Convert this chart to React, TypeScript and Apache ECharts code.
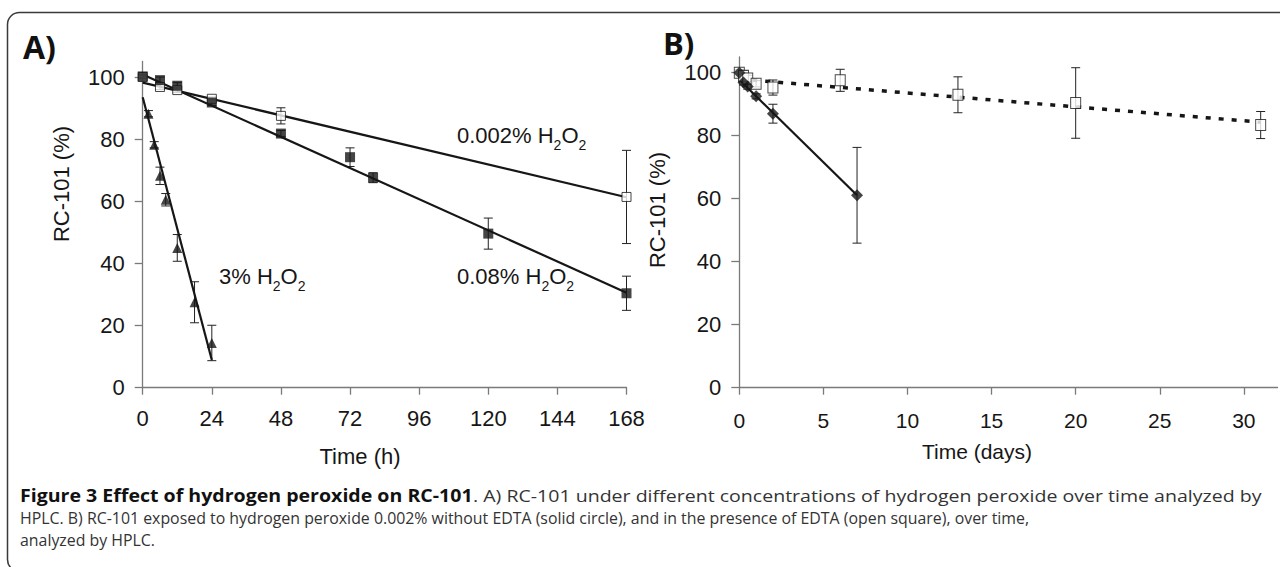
import React, { useEffect, useRef } from 'react';
import * as echarts from 'echarts';

// ---------- Panel A: time in hours ----------
const hourTicks = [0, 24, 48, 72, 96, 120, 144, 168];
const pctTicks = [0, 20, 40, 60, 80, 100];

const h3Time = [2, 4, 6, 8, 12, 18, 24];
const h3Val = [88.2, 78.2, 68.2, 60.5, 45.0, 27.5, 14.4];
const h3Err = [1.0, 1.0, 2.8, 2.0, 4.3, 6.6, 5.7];

const h008Time = [0, 6, 12, 24, 48, 72, 80, 120, 168];
const h008Val = [100.2, 99.0, 97.2, 91.8, 81.8, 74.2, 67.6, 49.6, 30.4];
const h008Err = [0.6, 1.0, 1.0, 1.0, 1.0, 3.0, 1.6, 5.0, 5.5];

const h0002Time = [0, 6, 12, 24, 48, 168];
const h0002Val = [100, 96.8, 95.8, 93.0, 87.5, 61.4];
const h0002Err = [0.5, 0.8, 0.8, 0.6, 2.6, 15.0];

const fit3 = [[0, 93.5], [24, 8.9]];
const fit008 = [[0, 100.8], [168, 30.6]];
const fit0002 = [[0, 98.2], [168, 61.3]];

// ---------- Panel B: time in days ----------
const dayTicks = [0, 5, 10, 15, 20, 25, 30];

const noEdtaDay = [0, 0.25, 0.5, 1, 2, 7];
const noEdtaVal = [100, 96.9, 95.6, 92.5, 87.0, 61.1];
const noEdtaErr = [0.5, 0.8, 0.8, 0.8, 3.0, 15.2];

const edtaDay = [0, 0.25, 0.5, 1, 2, 6, 13, 20, 31];
const edtaVal = [100, 99.0, 98.2, 96.5, 95.3, 97.6, 93.0, 90.4, 83.4];
const edtaErr = [1.0, 1.0, 1.0, 1.0, 2.4, 3.5, 5.7, 11.2, 4.3];

const fitNoEdta = [[0, 97.8], [7, 61.1]];
const fitEdta = [[0, 98.0], [31, 84.3]];

// ---------- Texts ----------
const yTitle = 'RC-101 (%)';
const xTitleA = 'Time (h)';
const xTitleB = 'Time (days)';
const capBold = 'Figure 3 Effect of hydrogen peroxide on RC-101';
const capLine1 = '. A) RC-101 under different concentrations of hydrogen peroxide over time analyzed by';
const capLine2 = 'HPLC. B) RC-101 exposed to hydrogen peroxide 0.002% without EDTA (solid circle), and in the presence of EDTA (open square), over time,';
const capLine3 = 'analyzed by HPLC.';

const FONT = '"Liberation Sans", Arial, sans-serif';
const CAP_FONT = '"Open Sans", sans-serif';
const AXIS_GRAY = '#7a7a7a';
const INK = '#161616';

function zip(xs: number[], ys: number[]) {
  return xs.map((x, i) => [x, ys[i]]);
}
function zip3(xs: number[], ys: number[], es: number[]) {
  return xs.map((x, i) => [x, ys[i], es[i]]);
}

function measure(font: string, text: string) {
  const ctx = document.createElement('canvas').getContext('2d');
  if (!ctx) return text.length * 8;
  ctx.font = font;
  return ctx.measureText(text).width;
}

const errorBar = (hw: number) => (params: any, api: any) => {
  const x = api.value(0);
  const y = api.value(1);
  const e = api.value(2);
  const top = api.coord([x, y + e]);
  const bot = api.coord([x, y - e]);
  const style = { stroke: '#222', lineWidth: 1 };
  return {
    type: 'group',
    children: [
      { type: 'line', shape: { x1: top[0], y1: top[1], x2: bot[0], y2: bot[1] }, style },
      { type: 'line', shape: { x1: top[0] - hw, y1: top[1], x2: top[0] + hw, y2: top[1] }, style },
      { type: 'line', shape: { x1: bot[0] - hw, y1: bot[1], x2: bot[0] + hw, y2: bot[1] }, style },
    ],
  };
};

function errSeries(data: number[][], gi: number) {
  return {
    type: 'custom',
    xAxisIndex: gi,
    yAxisIndex: gi,
    renderItem: errorBar(4.5),
    data,
    encode: { x: 0, y: 1 },
    z: 1,
    silent: true,
  };
}

function fitSeries(data: number[][], gi: number, dotted = false) {
  return {
    type: 'line',
    xAxisIndex: gi,
    yAxisIndex: gi,
    data,
    symbol: 'none',
    showSymbol: false,
    lineStyle: dotted
      ? { color: INK, width: 3.5, type: [5, 8], cap: 'butt' }
      : { color: INK, width: 2.2 },
    z: 2,
    silent: true,
  };
}

function subLabel(main: string, x: number, y: number) {
  return {
    type: 'text',
    x,
    y,
    style: {
      text: `{n|${main} H}{s|2}{n|O}{s|2}`,
      align: 'left',
      verticalAlign: 'top',
      rich: {
        n: { fontSize: 22, fontFamily: FONT, fill: INK, verticalAlign: 'top' },
        s: { fontSize: 14, fontFamily: FONT, fill: INK, verticalAlign: 'top', padding: [14, 0, 0, 0] },
      },
    },
    z: 10,
  };
}

function axisX(gi: number, max: number, interval: number, ticks: number[], fontSize: number, margin: number) {
  return {
    gridIndex: gi,
    type: 'value',
    min: 0,
    max,
    interval,
    axisLine: { show: true, onZero: false, lineStyle: { color: AXIS_GRAY, width: 1.3 } },
    axisTick: { show: true, length: 7, customValues: ticks, lineStyle: { color: AXIS_GRAY, width: 1.3 } },
    axisLabel: { customValues: ticks, fontSize, fontFamily: FONT, color: INK, margin },
    splitLine: { show: false },
  };
}

function axisY(gi: number) {
  return {
    gridIndex: gi,
    type: 'value',
    min: 0,
    max: 105,
    interval: 20,
    axisLine: { show: true, lineStyle: { color: AXIS_GRAY, width: 1.3 } },
    axisTick: { show: true, length: 8, customValues: pctTicks, lineStyle: { color: AXIS_GRAY, width: 1.3 } },
    axisLabel: { customValues: pctTicks, fontSize: 22, fontFamily: FONT, color: INK, margin: 18 },
    splitLine: { show: false },
  };
}

export default function App() {
  const ref = useRef<HTMLDivElement>(null);

  useEffect(() => {
    if (!ref.current) return;
    const chart = echarts.init(ref.current, undefined, { renderer: 'svg' });

    const capSize = 17;
    const wB = measure(`bold ${capSize}px "Open Sans"`, capBold);
    const w1 = measure(`${capSize}px "Open Sans"`, capLine1);
    const w2 = measure(`${capSize}px "Open Sans"`, capLine2);
    const s1 = 1242 / (wB + w1);
    const s2 = 1010 / w2;

    const option: any = {
      animation: false,
      backgroundColor: '#ffffff',
      grid: [
        { left: 142.7, top: 61.5, width: 483.8, height: 326.2 },
        { left: 739.3, top: 57, width: 538.2, height: 330.7 },
      ],
      xAxis: [axisX(0, 168, 24, hourTicks, 22, 20), axisX(1, 32, 5, dayTicks, 21, 22)],
      yAxis: [axisY(0), axisY(1)],
      series: [
        // Panel A
        errSeries(zip3(h3Time, h3Val, h3Err), 0),
        errSeries(zip3(h008Time, h008Val, h008Err), 0),
        errSeries(zip3(h0002Time, h0002Val, h0002Err), 0),
        fitSeries(fit3, 0),
        fitSeries(fit008, 0),
        fitSeries(fit0002, 0),
        {
          type: 'scatter', xAxisIndex: 0, yAxisIndex: 0, data: zip(h0002Time, h0002Val),
          symbol: 'rect', symbolSize: 9, z: 3,
          itemStyle: { color: '#ffffff', borderColor: INK, borderWidth: 1 },
        },
        {
          type: 'scatter', xAxisIndex: 0, yAxisIndex: 0, data: zip(h008Time, h008Val),
          symbol: 'rect', symbolSize: 10, z: 4, itemStyle: { color: INK },
        },
        {
          type: 'scatter', xAxisIndex: 0, yAxisIndex: 0, data: zip(h3Time, h3Val),
          symbol: 'triangle', symbolSize: 10, z: 4, itemStyle: { color: INK },
        },
        // Panel B
        errSeries(zip3(edtaDay, edtaVal, edtaErr), 1),
        errSeries(zip3(noEdtaDay, noEdtaVal, noEdtaErr), 1),
        fitSeries(fitEdta, 1, true),
        fitSeries(fitNoEdta, 1),
        {
          type: 'scatter', xAxisIndex: 1, yAxisIndex: 1, data: zip(edtaDay, edtaVal),
          symbol: 'rect', symbolSize: [10, 11], z: 3,
          itemStyle: { color: '#ffffff', borderColor: INK, borderWidth: 1 },
        },
        {
          type: 'scatter', xAxisIndex: 1, yAxisIndex: 1, data: zip(noEdtaDay, noEdtaVal),
          symbol: 'diamond', symbolSize: 12, z: 4, itemStyle: { color: INK },
        },
      ],
      graphic: {
        elements: [
          {
            type: 'rect',
            shape: { x: 7.5, y: 12.5, width: 1300, height: 559, r: 12 },
            style: { fill: 'none', stroke: '#3a3a3a', lineWidth: 1.5 },
            z: 0,
            silent: true,
          },
          {
            type: 'text', x: 23, y: 46,
            style: { text: 'A)', font: `bold 32px ${CAP_FONT}`, fill: '#111', align: 'left', verticalAlign: 'middle' },
          },
          {
            type: 'text', x: 663, y: 43,
            style: { text: 'B)', font: `bold 31px ${CAP_FONT}`, fill: '#111', align: 'left', verticalAlign: 'middle' },
          },
          {
            type: 'text', x: 61, y: 184, rotation: Math.PI / 2,
            style: { text: yTitle, font: `22px ${FONT}`, fill: INK, align: 'center', verticalAlign: 'middle' },
          },
          {
            type: 'text', x: 657, y: 210, rotation: Math.PI / 2,
            style: { text: yTitle, font: `22px ${FONT}`, fill: INK, align: 'center', verticalAlign: 'middle' },
          },
          {
            type: 'text', x: 360, y: 456,
            style: { text: xTitleA, font: `22px ${FONT}`, fill: INK, align: 'center', verticalAlign: 'middle' },
          },
          {
            type: 'text', x: 977, y: 451,
            style: { text: xTitleB, font: `21px ${FONT}`, fill: INK, align: 'center', verticalAlign: 'middle' },
          },
          subLabel('0.002%', 457, 124),
          subLabel('3%', 219, 265),
          subLabel('0.08%', 457, 265),
          {
            type: 'text', x: 20, y: 495, scaleX: s1,
            style: {
              text: `{b|${capBold}}{r|${capLine1}}`,
              align: 'left', verticalAlign: 'middle',
              rich: {
                b: { fontSize: capSize, fontFamily: CAP_FONT, fontWeight: 'bold', fill: '#111' },
                r: { fontSize: capSize, fontFamily: CAP_FONT, fill: '#333' },
              },
            },
          },
          {
            type: 'text', x: 20, y: 517, scaleX: s2,
            style: { text: capLine2, font: `${capSize}px ${CAP_FONT}`, fill: '#333', align: 'left', verticalAlign: 'middle' },
          },
          {
            type: 'text', x: 20, y: 539, scaleX: s2,
            style: { text: capLine3, font: `${capSize}px ${CAP_FONT}`, fill: '#333', align: 'left', verticalAlign: 'middle' },
          },
        ],
      },
    };

    chart.setOption(option);
    return () => chart.dispose();
  }, []);

  return (
    <div style={{ position: 'fixed', left: 0, top: 0, width: 1280, height: 567, background: '#fff' }}>
      <div ref={ref} style={{ width: 1280, height: 567 }} />
    </div>
  );
}
